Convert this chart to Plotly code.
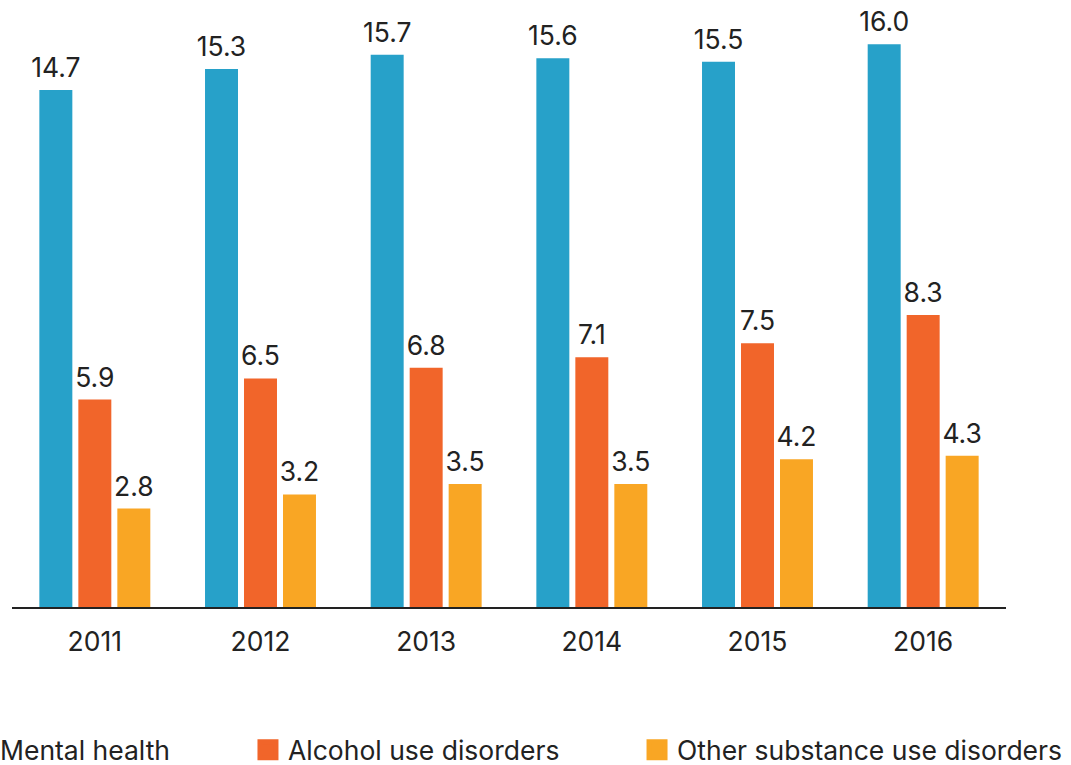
import plotly.graph_objects as go

years = ["2011", "2012", "2013", "2014", "2015", "2016"]
mental_health = [14.7, 15.3, 15.7, 15.6, 15.5, 16.0]
alcohol = [5.9, 6.5, 6.8, 7.1, 7.5, 8.3]
other_substance = [2.8, 3.2, 3.5, 3.5, 4.2, 4.3]

names = ["Mental health", "Alcohol use disorders", "Other substance use disorders"]
colors = ["#27a1c9", "#f1652a", "#f9a624"]
series = [mental_health, alcohol, other_substance]

FONT = "Inter"
TXT = "#222222"
FS = 26.5
PX_PER_UNIT = 35.17
YMAX = 602 / PX_PER_UNIT
LABEL_LIFT = 4 / PX_PER_UNIT  # extra gap between bar top and its value label

fig = go.Figure()
# visible bars
for name, vals, col in zip(names, series, colors):
    fig.add_trace(go.Bar(
        x=years, y=vals, name=name, marker=dict(color=col, line=dict(width=0)),
        showlegend=False, hoverinfo="x+y+name",
    ))
# value labels (same bars on a slightly offset overlay axis, transparent)
for name, vals in zip(names, series):
    fig.add_trace(go.Bar(
        x=years, y=vals, name=name, yaxis="y2",
        marker=dict(color="rgba(0,0,0,0)", line=dict(width=0)),
        text=[f"{v:.1f}" for v in vals], textposition="outside",
        textfont=dict(family=FONT, size=FS, color=TXT),
        constraintext="none", cliponaxis=False, showlegend=False, hoverinfo="skip",
    ))

legend_ids = ["legend", "legend2", "legend3"]
legend_x = [-0.0523, 0.2374, 0.6288]
for name, col, lid in zip(names, colors, legend_ids):
    fig.add_trace(go.Scatter(
        x=[None], y=[None], mode="markers", name=name,
        marker=dict(symbol="square", size=16, color=col, line=dict(width=5, color=col)),
        legend=lid, showlegend=True,
    ))

leg_common = dict(orientation="h", yanchor="middle", xanchor="left", y=-0.2375,
                  font=dict(family=FONT, size=FS, color=TXT), bgcolor="rgba(0,0,0,0)")

fig.update_layout(
    width=1071, height=765,
    margin=dict(l=12, r=65, t=5, b=158, autoexpand=False),
    paper_bgcolor="white", plot_bgcolor="white",
    barmode="group", bargap=0.294, bargroupgap=0.154,
    font=dict(family=FONT, size=FS, color=TXT),
    legend=dict(x=legend_x[0], **leg_common),
    legend2=dict(x=legend_x[1], **leg_common),
    legend3=dict(x=legend_x[2], **leg_common),
    xaxis=dict(showline=True, linecolor="#222222", linewidth=2, showgrid=False,
               ticks="", ticklabelstandoff=10, tickfont=dict(family=FONT, size=FS, color=TXT),
               range=[-0.5, 5.5], zeroline=False),
    yaxis=dict(range=[0, YMAX], visible=False, showgrid=False, zeroline=False),
    yaxis2=dict(range=[-LABEL_LIFT, YMAX - LABEL_LIFT], overlaying="y", visible=False,
                showgrid=False, zeroline=False),
)

fig.write_html("out.html")
